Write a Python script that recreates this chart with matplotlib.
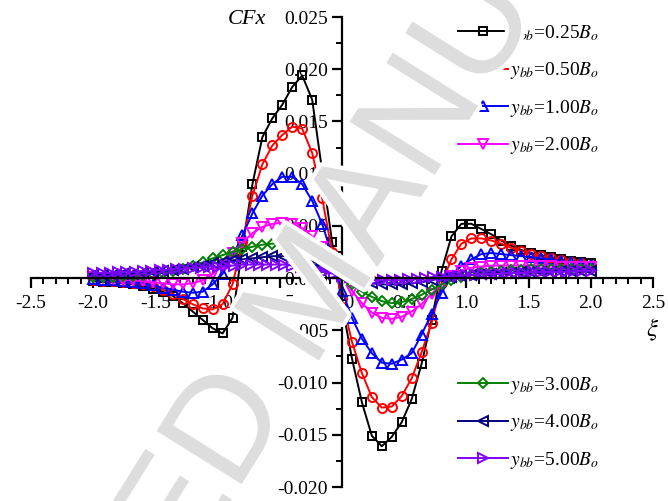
import numpy as np
import matplotlib
matplotlib.use("Agg")
import matplotlib.pyplot as plt
from matplotlib.ticker import MultipleLocator, FormatStrFormatter
from matplotlib import patheffects as pe

plt.rcParams['font.family'] = ['Liberation Serif', 'DejaVu Serif']
plt.rcParams['mathtext.fontset'] = 'stix'
plt.rcParams['axes.unicode_minus'] = False

# ---------------- data ----------------
xi = [-2.00, -1.92, -1.84, -1.76, -1.68, -1.60, -1.52, -1.44, -1.36, -1.28,
      -1.20, -1.12, -1.04, -0.96, -0.88, -0.80, -0.72, -0.64, -0.56, -0.48,
      -0.40, -0.32, -0.24, -0.16, -0.08, 0.00, 0.08, 0.16, 0.24, 0.32,
      0.40, 0.48, 0.56, 0.64, 0.72, 0.80, 0.88, 0.96, 1.04, 1.12,
      1.20, 1.28, 1.36, 1.44, 1.52, 1.60, 1.68, 1.76, 1.84, 1.92, 2.00]

cfx_025 = [-0.0003, -0.0004, -0.0004, -0.0005, -0.0006, -0.0008, -0.0010, -0.0013, -0.0017, -0.0024,
           -0.0032, -0.0040, -0.0048, -0.0053, -0.0038, 0.0030, 0.0090, 0.0135, 0.0153, 0.0166,
           0.0183, 0.0194, 0.0171, 0.0103, 0.0035, -0.0025, -0.0077, -0.0119, -0.0151, -0.0161,
           -0.0152, -0.0138, -0.0116, -0.0082, -0.0040, 0.0007, 0.0040, 0.0052, 0.0052, 0.0047,
           0.0042, 0.0036, 0.0031, 0.0027, 0.0024, 0.0022, 0.0020, 0.0018, 0.0016, 0.0015, 0.0014]

cfx_050 = [-0.0002, -0.0003, -0.0003, -0.0004, -0.0005, -0.0006, -0.0008, -0.0011, -0.0015, -0.0020,
           -0.0025, -0.0029, -0.0030, -0.0025, -0.0006, 0.0035, 0.0079, 0.0109, 0.0127, 0.0137,
           0.0145, 0.0143, 0.0120, 0.0077, 0.0025, -0.0020, -0.0061, -0.0091, -0.0114, -0.0124,
           -0.0123, -0.0113, -0.0096, -0.0071, -0.0043, -0.0005, 0.0018, 0.0033, 0.0038, 0.0038,
           0.0036, 0.0033, 0.0029, 0.0026, 0.0023, 0.0021, 0.0019, 0.0017, 0.0015, 0.0014, 0.0013]

cfx_100 = [-0.0001, -0.0002, -0.0002, -0.0003, -0.0004, -0.0005, -0.0007, -0.0009, -0.0011, -0.0013,
           -0.0014, -0.0013, -0.0006, 0.0004, 0.0021, 0.0041, 0.0062, 0.0079, 0.0090, 0.0097,
           0.0097, 0.0090, 0.0074, 0.0052, 0.0022, -0.0012, -0.0038, -0.0058, -0.0072, -0.0081,
           -0.0082, -0.0078, -0.0072, -0.0054, -0.0034, -0.0014, 0.0002, 0.0012, 0.0018, 0.0023,
           0.0024, 0.0023, 0.0022, 0.0021, 0.0020, 0.0019, 0.0018, 0.0016, 0.0015, 0.0014, 0.0013]

cfx_200 = [0.0001, 0.0000, -0.0001, -0.0002, -0.0002, -0.0003, -0.0004, -0.0005, -0.0006, -0.0006,
           -0.0005, -0.0002, 0.0004, 0.0013, 0.0024, 0.0034, 0.0043, 0.0049, 0.0052, 0.0053,
           0.0052, 0.0048, 0.0040, 0.0030, 0.0017, 0.0002, -0.0012, -0.0024, -0.0033, -0.0038,
           -0.0039, -0.0037, -0.0032, -0.0025, -0.0015, -0.0006, 0.0002, 0.0007, 0.0010, 0.0011,
           0.0012, 0.0012, 0.0012, 0.0012, 0.0012, 0.0012, 0.0012, 0.0011, 0.0011, 0.0011, 0.0011]

cfx_300 = [0.0001, 0.0001, 0.0001, 0.0002, 0.0002, 0.0003, 0.0004, 0.0005, 0.0007, 0.0009,
           0.0012, 0.0015, 0.0019, 0.0022, 0.0025, 0.0028, 0.0030, 0.0032, 0.0033, 0.0033,
           0.0032, 0.0029, 0.0024, 0.0018, 0.0010, 0.0002, -0.0006, -0.0013, -0.0018, -0.0022,
           -0.0024, -0.0023, -0.0020, -0.0016, -0.0011, -0.0006, -0.0002, 0.0001, 0.0003, 0.0005,
           0.0006, 0.0007, 0.0008, 0.0008, 0.0009, 0.0009, 0.0009, 0.0009, 0.0009, 0.0009, 0.0009]

cfx_400 = [0.0003, 0.0003, 0.0003, 0.0004, 0.0004, 0.0005, 0.0006, 0.0007, 0.0008, 0.0009,
           0.0011, 0.0012, 0.0014, 0.0015, 0.0017, 0.0018, 0.0019, 0.0020, 0.0021, 0.0021,
           0.0021, 0.0019, 0.0016, 0.0012, 0.0008, 0.0004, 0.0000, -0.0003, -0.0005, -0.0006,
           -0.0006, -0.0006, -0.0005, -0.0004, -0.0002, 0.0000, 0.0001, 0.0002, 0.0003, 0.0004,
           0.0004, 0.0005, 0.0005, 0.0006, 0.0006, 0.0006, 0.0006, 0.0007, 0.0007, 0.0007, 0.0007]

xi_500 = [-2.000, -1.933, -1.867, -1.800, -1.733, -1.667, -1.600, -1.533, -1.467, -1.400,
          -1.333, -1.267, -1.200, -1.133, -1.067, -1.000, -0.933, -0.867, -0.800, -0.733,
          -0.667, -0.600, -0.533, -0.467, -0.400, -0.333, -0.267, -0.200, -0.133, -0.067,
          0.000, 0.067, 0.133, 0.200, 0.267, 0.333, 0.400, 0.467, 0.533, 0.600,
          0.667, 0.733, 0.800, 0.867, 0.933, 1.000, 1.067, 1.133, 1.200, 1.267,
          1.333, 1.400, 1.467, 1.533, 1.600, 1.667, 1.733, 1.800, 1.867, 1.933, 2.000]

cfx_500 = [0.0005, 0.0005, 0.0005, 0.0006, 0.0006, 0.0006, 0.0007, 0.0007, 0.0008, 0.0008,
           0.0009, 0.0009, 0.0010, 0.0010, 0.0011, 0.0011, 0.0012, 0.0012, 0.0013, 0.0013,
           0.0013, 0.0013, 0.0013, 0.0013, 0.0012, 0.0011, 0.0010, 0.0008, 0.0006, 0.0004,
           0.0002, 0.0001, 0.0000, -0.0001, -0.0002, -0.0002, -0.0002, -0.0002, -0.0001, -0.0001,
           0.0000, 0.0001, 0.0001, 0.0002, 0.0002, 0.0003, 0.0003, 0.0004, 0.0004, 0.0004,
           0.0005, 0.0005, 0.0005, 0.0006, 0.0006, 0.0006, 0.0006, 0.0006, 0.0007, 0.0007, 0.0007]

labels = [r'$y_{bb}$=0.25$B_o$', r'$y_{bb}$=0.50$B_o$', r'$y_{bb}$=1.00$B_o$',
          r'$y_{bb}$=2.00$B_o$', r'$y_{bb}$=3.00$B_o$', r'$y_{bb}$=4.00$B_o$',
          r'$y_{bb}$=5.00$B_o$']

# ---------------- figure ----------------
fig = plt.figure(figsize=(6.68, 5.01), dpi=100)
ax = fig.add_axes([31/668, 1 - 487/501, 622/668, 470/501])

series = [
    (xi, cfx_025, 'black', 's', 6.0),
    (xi, cfx_050, '#ff0000', 'o', 6.5),
    (xi, cfx_100, '#0000ff', '^', 7.0),
    (xi, cfx_200, '#ff00ff', 'v', 7.0),
    (xi, cfx_300, '#008000', 'D', 5.5),
    (xi, cfx_400, '#000080', '<', 7.0),
    (xi_500, cfx_500, '#8000ff', '>', 7.0),
]
handles = []
for (xs, ys, c, m, ms), lab in zip(series, labels):
    ln, = ax.plot(xs, ys, color=c, marker=m, markersize=ms, markerfacecolor='none',
                  markeredgewidth=1.4, linewidth=1.4, label=lab)
    handles.append(ln)

ax.set_xlim(-2.5, 2.5)
ax.set_ylim(-0.020, 0.025)
ax.spines['left'].set_position(('data', 0))
ax.spines['bottom'].set_position(('data', 0))
ax.spines['right'].set_visible(False)
ax.spines['top'].set_visible(False)
for s in ('left', 'bottom'):
    ax.spines[s].set_linewidth(1.6)
ax.xaxis.set_major_locator(MultipleLocator(0.5))
ax.xaxis.set_minor_locator(MultipleLocator(0.1))
ax.yaxis.set_major_locator(MultipleLocator(0.005))
ax.yaxis.set_minor_locator(MultipleLocator(0.0025))
ax.xaxis.set_major_formatter(FormatStrFormatter('%.1f'))
ax.yaxis.set_major_formatter(FormatStrFormatter('%.3f'))
ax.tick_params(which='major', direction='out', length=7, width=1.6, labelsize=14)
ax.tick_params(axis='x', which='major', pad=5)
ax.tick_params(axis='y', which='major', pad=3)
ax.tick_params(which='minor', direction='out', length=4, width=1.4)
ax.patch.set_visible(False)

fig.text(247/668, 1 - 19/501, 'CFx', fontsize=16, style='italic', ha='center', va='center')
fig.text(653/668, 1 - 330/501, r'$\xi$', fontsize=18, ha='center', va='center')

leg1 = ax.legend(handles=handles[:4], loc='upper left', bbox_to_anchor=(450/668, 1 - 15/501),
                 bbox_transform=fig.transFigure, frameon=False, fontsize=14, numpoints=1,
                 handlelength=2.6, handletextpad=0.1, labelspacing=0.85, borderaxespad=0)
ax.add_artist(leg1)
leg2 = ax.legend(handles=handles[4:], loc='upper left', bbox_to_anchor=(450/668, 1 - 367/501),
                 bbox_transform=fig.transFigure, frameon=False, fontsize=14, numpoints=1,
                 handlelength=2.6, handletextpad=0.1, labelspacing=0.85, borderaxespad=0)

# watermark
fig.text(315/668, 1 - 295/501, 'ACCEPTED MANUSCRIPT', rotation=58, ha='center', va='center',
         rotation_mode='anchor', fontsize=105, color='#dddddd', family='Liberation Sans',
         zorder=10, path_effects=[pe.withStroke(linewidth=6, foreground='white')])

fig.savefig('out.png', dpi=100)
